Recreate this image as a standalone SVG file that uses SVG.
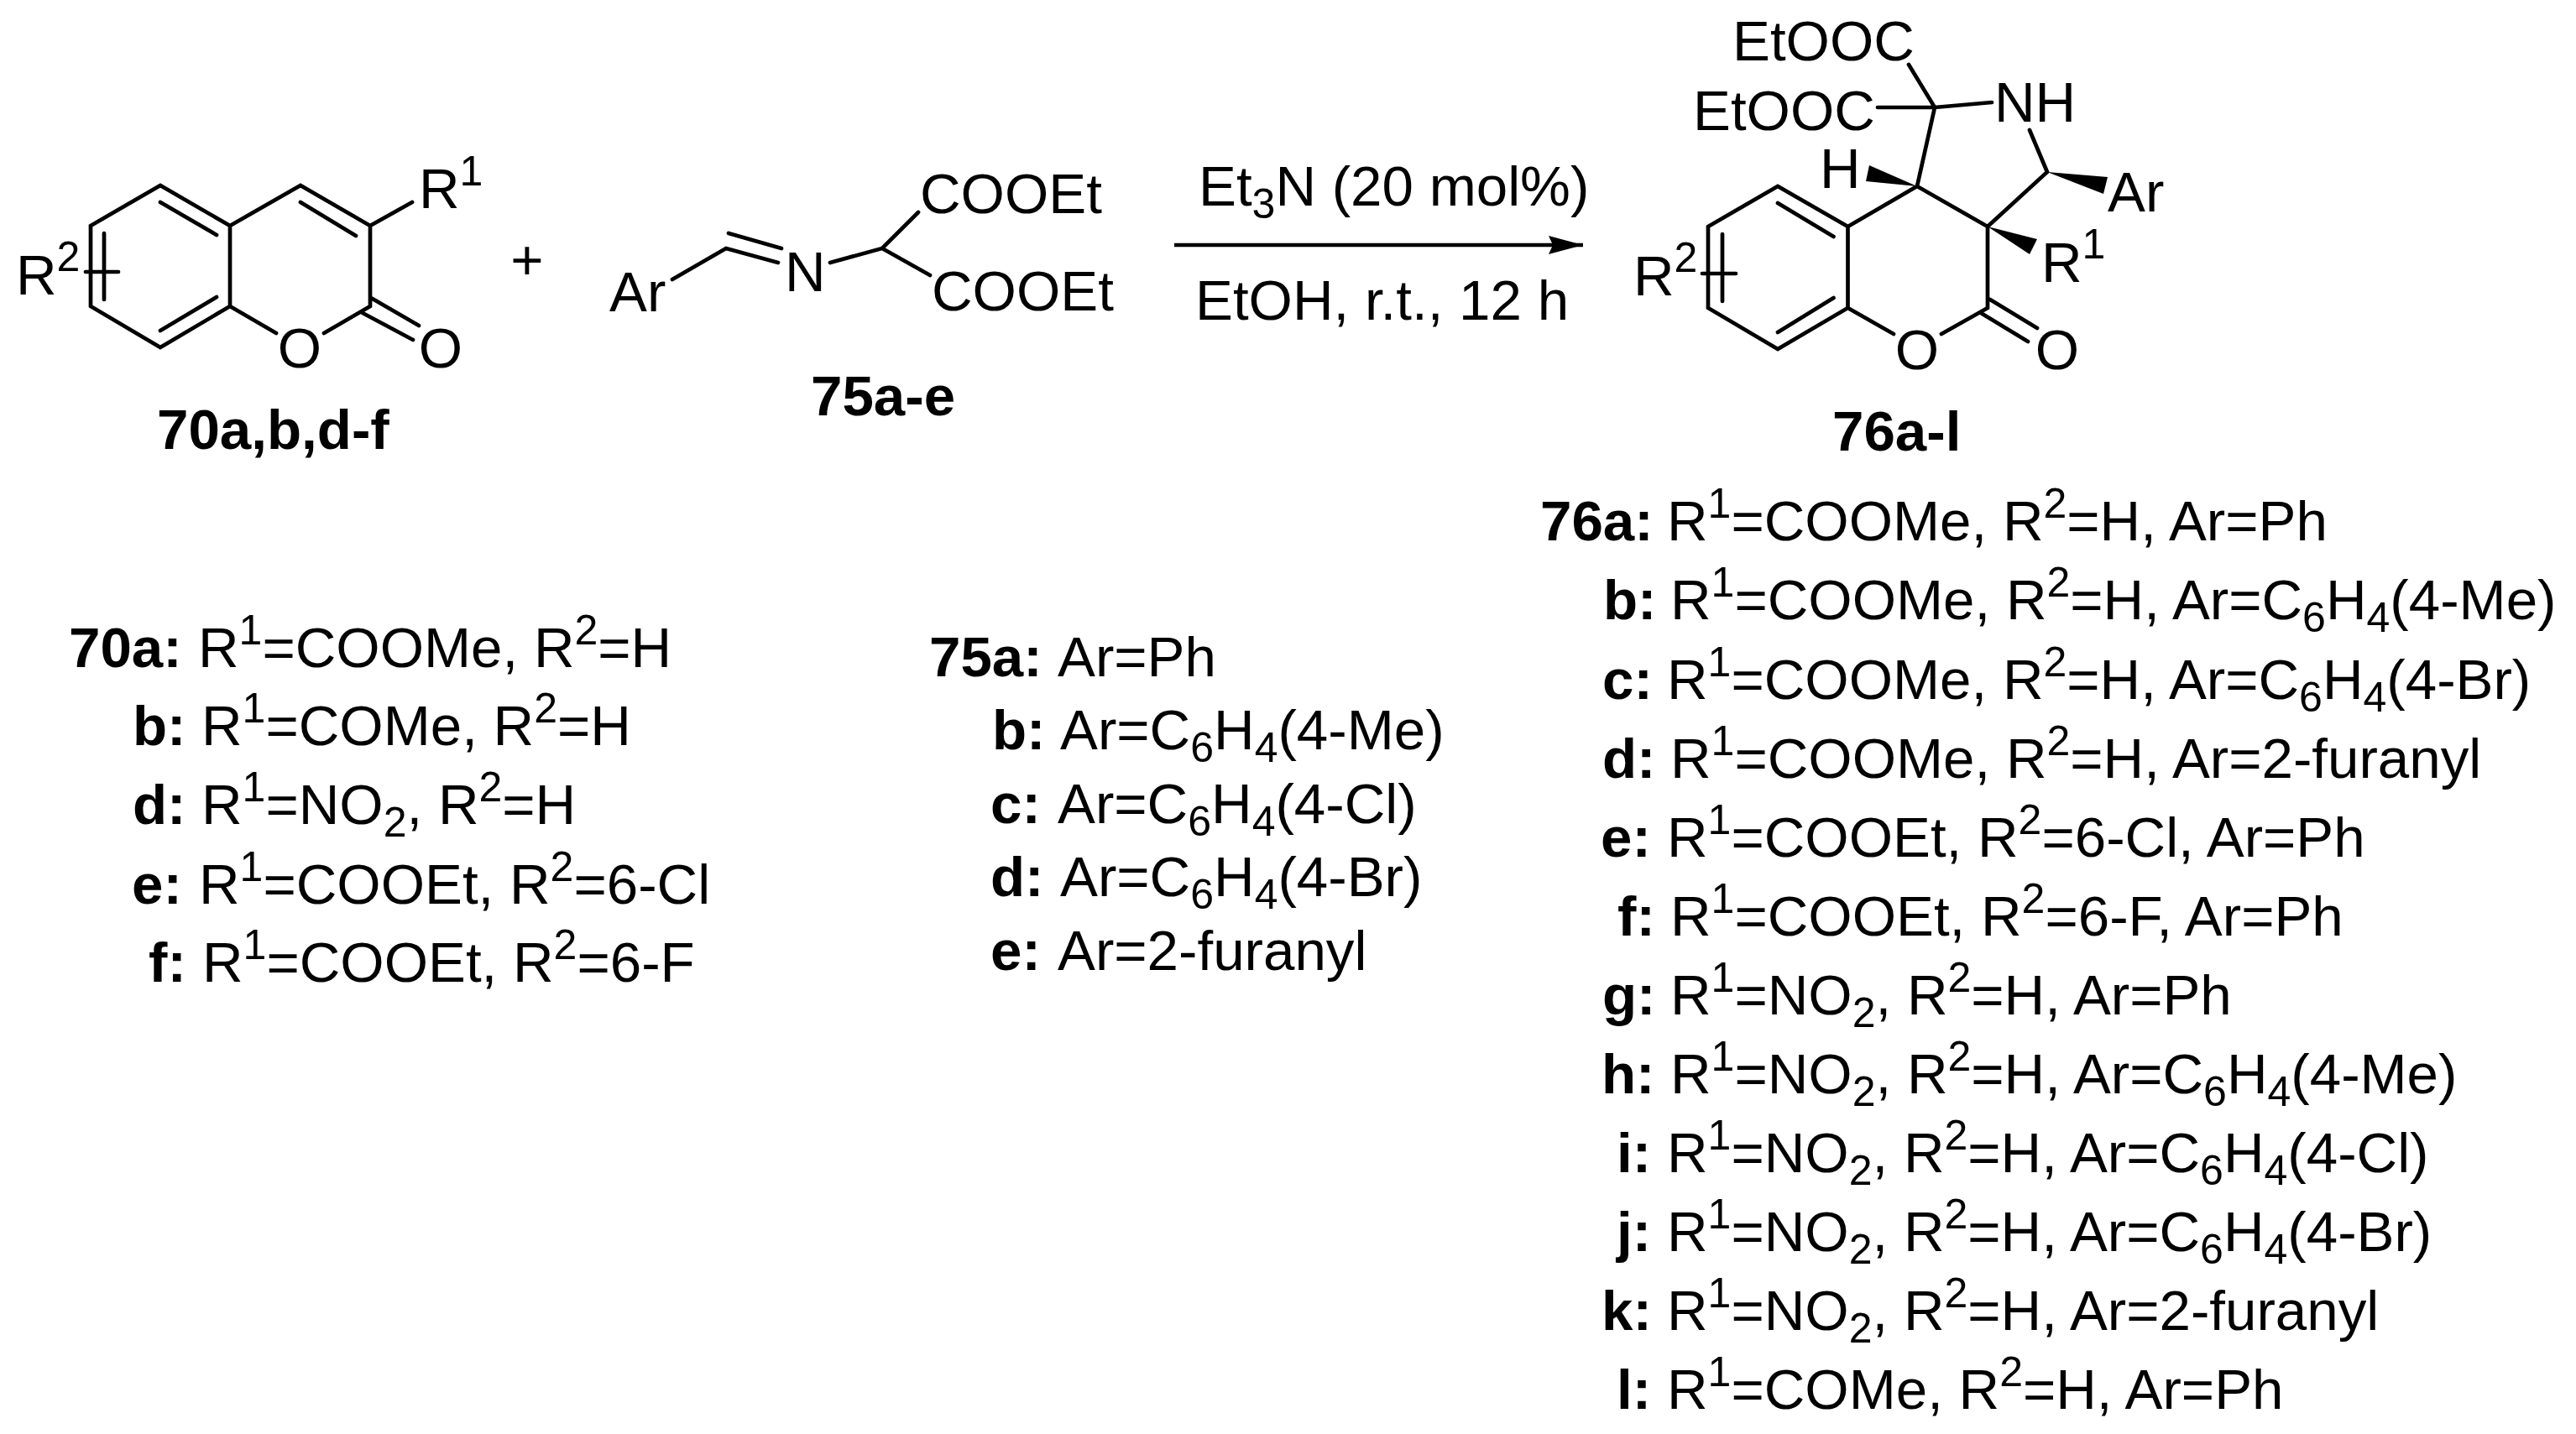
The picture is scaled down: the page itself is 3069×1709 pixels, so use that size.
<svg xmlns="http://www.w3.org/2000/svg" width="3069" height="1709" viewBox="0 0 3069 1709">
<style>
text{font-family:"Liberation Sans",Arial,sans-serif;font-size:67.3px;fill:#000}
.b{font-weight:bold}
.m{text-anchor:middle}
.s{font-size:50px}
.bond{stroke:#000;stroke-width:4.7;fill:none;stroke-linecap:round;stroke-linejoin:miter}
.w{fill:#000}
</style>
<defs>
<marker id="head" markerUnits="userSpaceOnUse" markerWidth="44" markerHeight="26" refX="41" refY="13" orient="auto"><path d="M0 2L41 13L0 24L5 13Z" fill="#000"/></marker>
</defs>
<rect width="3069" height="1709" fill="#fff"/>
<g id="connectors">
<g id="bonds-70">
<path class="bond" d="M274 269L191 221L108 269V365L191 414L274 365V269L358 221L441 269V365M274 365L329 397M386 397L441 365M191 241L258 280M191 394L258 354M124 278V357M102 324H141M358 241L424 281M441 269L491 241M432 373L492 405M442 355L499 388"/>
</g>
<g id="bonds-75">
<path class="bond" d="M801 333L865 296L927 313M868 278L931 296M989 313L1051 296L1094 253M1051 296L1108 328"/>
</g>
<g id="bonds-76">
<path class="bond" d="M2201.500 270L2118 222L2035 270V367L2118 416L2201.500 367V270L2284 222L2368 270V367M2201.500 367L2256 398M2313 398L2368 367M2118 242L2184.500 282M2118 396L2184.500 355M2052 279V359M2028 326H2068M2360 373L2416 407M2371 357L2427 391M2284 222L2305 128M2274 77L2305 128M2237 128H2305L2373 122M2418 155L2439 205L2368 270"/>
<polygon class="w" points="2439,205 2511,211 2506,231"/>
<polygon class="w" points="2284,222 2227,197 2223,216"/>
<polygon class="w" points="2368,270 2427,285 2418,303"/>
</g>
<line id="reaction-arrow" x1="1399" y1="292" x2="1886" y2="292" stroke="#000" stroke-width="4.700" marker-end="url(#head)"/>
</g>
<g id="node-70">
<text x="499" y="248">R<tspan class="s" dy="-27">1</tspan></text>
<text x="19" y="351">R<tspan class="s" dy="-28">2</tspan></text>
<text class="m" x="357" y="438">O</text>
<text class="m" x="525" y="438">O</text>
<text class="b" x="187" y="535">70a,b,d-f</text>
</g>
<g id="plus"><text class="m" x="628" y="333">+</text></g>
<g id="node-75">
<text x="726" y="371">Ar</text>
<text x="935" y="347">N</text>
<text x="1096" y="254">COOEt</text>
<text x="1110" y="370">COOEt</text>
<text class="b" x="966" y="495">75a-e</text>
</g>
<g id="conditions">
<text x="1428" y="245">Et<tspan class="s" dy="15">3</tspan><tspan dy="-15">N (20 mol%)</tspan></text>
<text x="1424" y="381">EtOH, r.t., 12 h</text>
</g>
<g id="node-76">
<text x="2064" y="72">EtOOC</text>
<text x="2017" y="155">EtOOC</text>
<text x="2376" y="145">NH</text>
<text x="2168" y="224">H</text>
<text x="2511" y="252">Ar</text>
<text x="2432" y="336">R<tspan class="s" dy="-28">1</tspan></text>
<text x="1946" y="352">R<tspan class="s" dy="-28">2</tspan></text>
<text class="m" x="2284" y="440">O</text>
<text class="m" x="2451" y="440">O</text>
<text class="b" x="2183" y="537">76a-l</text>
</g>
<g id="list-70">
<text y="795"><tspan class="b" x="82">70a:</tspan><tspan x="236">R</tspan><tspan class="s" dy="-27">1</tspan><tspan dy="27">=COOMe, R</tspan><tspan class="s" dy="-27">2</tspan><tspan dy="27">=H</tspan></text>
<text y="888"><tspan class="b" x="158">b:</tspan><tspan x="240">R</tspan><tspan class="s" dy="-27">1</tspan><tspan dy="27">=COMe, R</tspan><tspan class="s" dy="-27">2</tspan><tspan dy="27">=H</tspan></text>
<text y="982"><tspan class="b" x="158">d:</tspan><tspan x="240">R</tspan><tspan class="s" dy="-27">1</tspan><tspan dy="27">=NO</tspan><tspan class="s" dy="15">2</tspan><tspan dy="-15">, R</tspan><tspan class="s" dy="-27">2</tspan><tspan dy="27">=H</tspan></text>
<text y="1077"><tspan class="b" x="157">e:</tspan><tspan x="237">R</tspan><tspan class="s" dy="-27">1</tspan><tspan dy="27">=COOEt, R</tspan><tspan class="s" dy="-27">2</tspan><tspan dy="27">=6-Cl</tspan></text>
<text y="1170"><tspan class="b" x="177">f:</tspan><tspan x="241">R</tspan><tspan class="s" dy="-27">1</tspan><tspan dy="27">=COOEt, R</tspan><tspan class="s" dy="-27">2</tspan><tspan dy="27">=6-F</tspan></text>
</g>
<g id="list-75">
<text y="806"><tspan class="b" x="1107">75a:</tspan><tspan x="1260">Ar=Ph</tspan></text>
<text y="893"><tspan class="b" x="1182">b:</tspan><tspan x="1263">Ar=C</tspan><tspan class="s" dy="15">6</tspan><tspan dy="-15">H</tspan><tspan class="s" dy="15">4</tspan><tspan dy="-15">(4-Me)</tspan></text>
<text y="981"><tspan class="b" x="1180">c:</tspan><tspan x="1260">Ar=C</tspan><tspan class="s" dy="15">6</tspan><tspan dy="-15">H</tspan><tspan class="s" dy="15">4</tspan><tspan dy="-15">(4-Cl)</tspan></text>
<text y="1068"><tspan class="b" x="1180">d:</tspan><tspan x="1263">Ar=C</tspan><tspan class="s" dy="15">6</tspan><tspan dy="-15">H</tspan><tspan class="s" dy="15">4</tspan><tspan dy="-15">(4-Br)</tspan></text>
<text y="1156"><tspan class="b" x="1180">e:</tspan><tspan x="1260">Ar=2-furanyl</tspan></text>
</g>
<g id="list-76">
<text y="644"><tspan class="b" x="1835">76a:</tspan><tspan x="1986">R</tspan><tspan class="s" dy="-27">1</tspan><tspan dy="27">=COOMe, R</tspan><tspan class="s" dy="-27">2</tspan><tspan dy="27">=H, Ar=Ph</tspan></text>
<text y="738"><tspan class="b" x="1910">b:</tspan><tspan x="1990">R</tspan><tspan class="s" dy="-27">1</tspan><tspan dy="27">=COOMe, R</tspan><tspan class="s" dy="-27">2</tspan><tspan dy="27">=H, Ar=C</tspan><tspan class="s" dy="15">6</tspan><tspan dy="-15">H</tspan><tspan class="s" dy="15">4</tspan><tspan dy="-15">(4-Me)</tspan></text>
<text y="833"><tspan class="b" x="1909">c:</tspan><tspan x="1986">R</tspan><tspan class="s" dy="-27">1</tspan><tspan dy="27">=COOMe, R</tspan><tspan class="s" dy="-27">2</tspan><tspan dy="27">=H, Ar=C</tspan><tspan class="s" dy="15">6</tspan><tspan dy="-15">H</tspan><tspan class="s" dy="15">4</tspan><tspan dy="-15">(4-Br)</tspan></text>
<text y="927"><tspan class="b" x="1909">d:</tspan><tspan x="1990">R</tspan><tspan class="s" dy="-27">1</tspan><tspan dy="27">=COOMe, R</tspan><tspan class="s" dy="-27">2</tspan><tspan dy="27">=H, Ar=2-furanyl</tspan></text>
<text y="1021"><tspan class="b" x="1907">e:</tspan><tspan x="1986">R</tspan><tspan class="s" dy="-27">1</tspan><tspan dy="27">=COOEt, R</tspan><tspan class="s" dy="-27">2</tspan><tspan dy="27">=6-Cl, Ar=Ph</tspan></text>
<text y="1115"><tspan class="b" x="1927">f:</tspan><tspan x="1990">R</tspan><tspan class="s" dy="-27">1</tspan><tspan dy="27">=COOEt, R</tspan><tspan class="s" dy="-27">2</tspan><tspan dy="27">=6-F, Ar=Ph</tspan></text>
<text y="1209"><tspan class="b" x="1909">g:</tspan><tspan x="1990">R</tspan><tspan class="s" dy="-27">1</tspan><tspan dy="27">=NO</tspan><tspan class="s" dy="15">2</tspan><tspan dy="-15">, R</tspan><tspan class="s" dy="-27">2</tspan><tspan dy="27">=H, Ar=Ph</tspan></text>
<text y="1303"><tspan class="b" x="1908">h:</tspan><tspan x="1990">R</tspan><tspan class="s" dy="-27">1</tspan><tspan dy="27">=NO</tspan><tspan class="s" dy="15">2</tspan><tspan dy="-15">, R</tspan><tspan class="s" dy="-27">2</tspan><tspan dy="27">=H, Ar=C</tspan><tspan class="s" dy="15">6</tspan><tspan dy="-15">H</tspan><tspan class="s" dy="15">4</tspan><tspan dy="-15">(4-Me)</tspan></text>
<text y="1397"><tspan class="b" x="1926">i:</tspan><tspan x="1986">R</tspan><tspan class="s" dy="-27">1</tspan><tspan dy="27">=NO</tspan><tspan class="s" dy="15">2</tspan><tspan dy="-15">, R</tspan><tspan class="s" dy="-27">2</tspan><tspan dy="27">=H, Ar=C</tspan><tspan class="s" dy="15">6</tspan><tspan dy="-15">H</tspan><tspan class="s" dy="15">4</tspan><tspan dy="-15">(4-Cl)</tspan></text>
<text y="1491"><tspan class="b" x="1926">j:</tspan><tspan x="1986">R</tspan><tspan class="s" dy="-27">1</tspan><tspan dy="27">=NO</tspan><tspan class="s" dy="15">2</tspan><tspan dy="-15">, R</tspan><tspan class="s" dy="-27">2</tspan><tspan dy="27">=H, Ar=C</tspan><tspan class="s" dy="15">6</tspan><tspan dy="-15">H</tspan><tspan class="s" dy="15">4</tspan><tspan dy="-15">(4-Br)</tspan></text>
<text y="1585"><tspan class="b" x="1908">k:</tspan><tspan x="1986">R</tspan><tspan class="s" dy="-27">1</tspan><tspan dy="27">=NO</tspan><tspan class="s" dy="15">2</tspan><tspan dy="-15">, R</tspan><tspan class="s" dy="-27">2</tspan><tspan dy="27">=H, Ar=2-furanyl</tspan></text>
<text y="1679"><tspan class="b" x="1926">l:</tspan><tspan x="1986">R</tspan><tspan class="s" dy="-27">1</tspan><tspan dy="27">=COMe, R</tspan><tspan class="s" dy="-27">2</tspan><tspan dy="27">=H, Ar=Ph</tspan></text>
</g>
</svg>
